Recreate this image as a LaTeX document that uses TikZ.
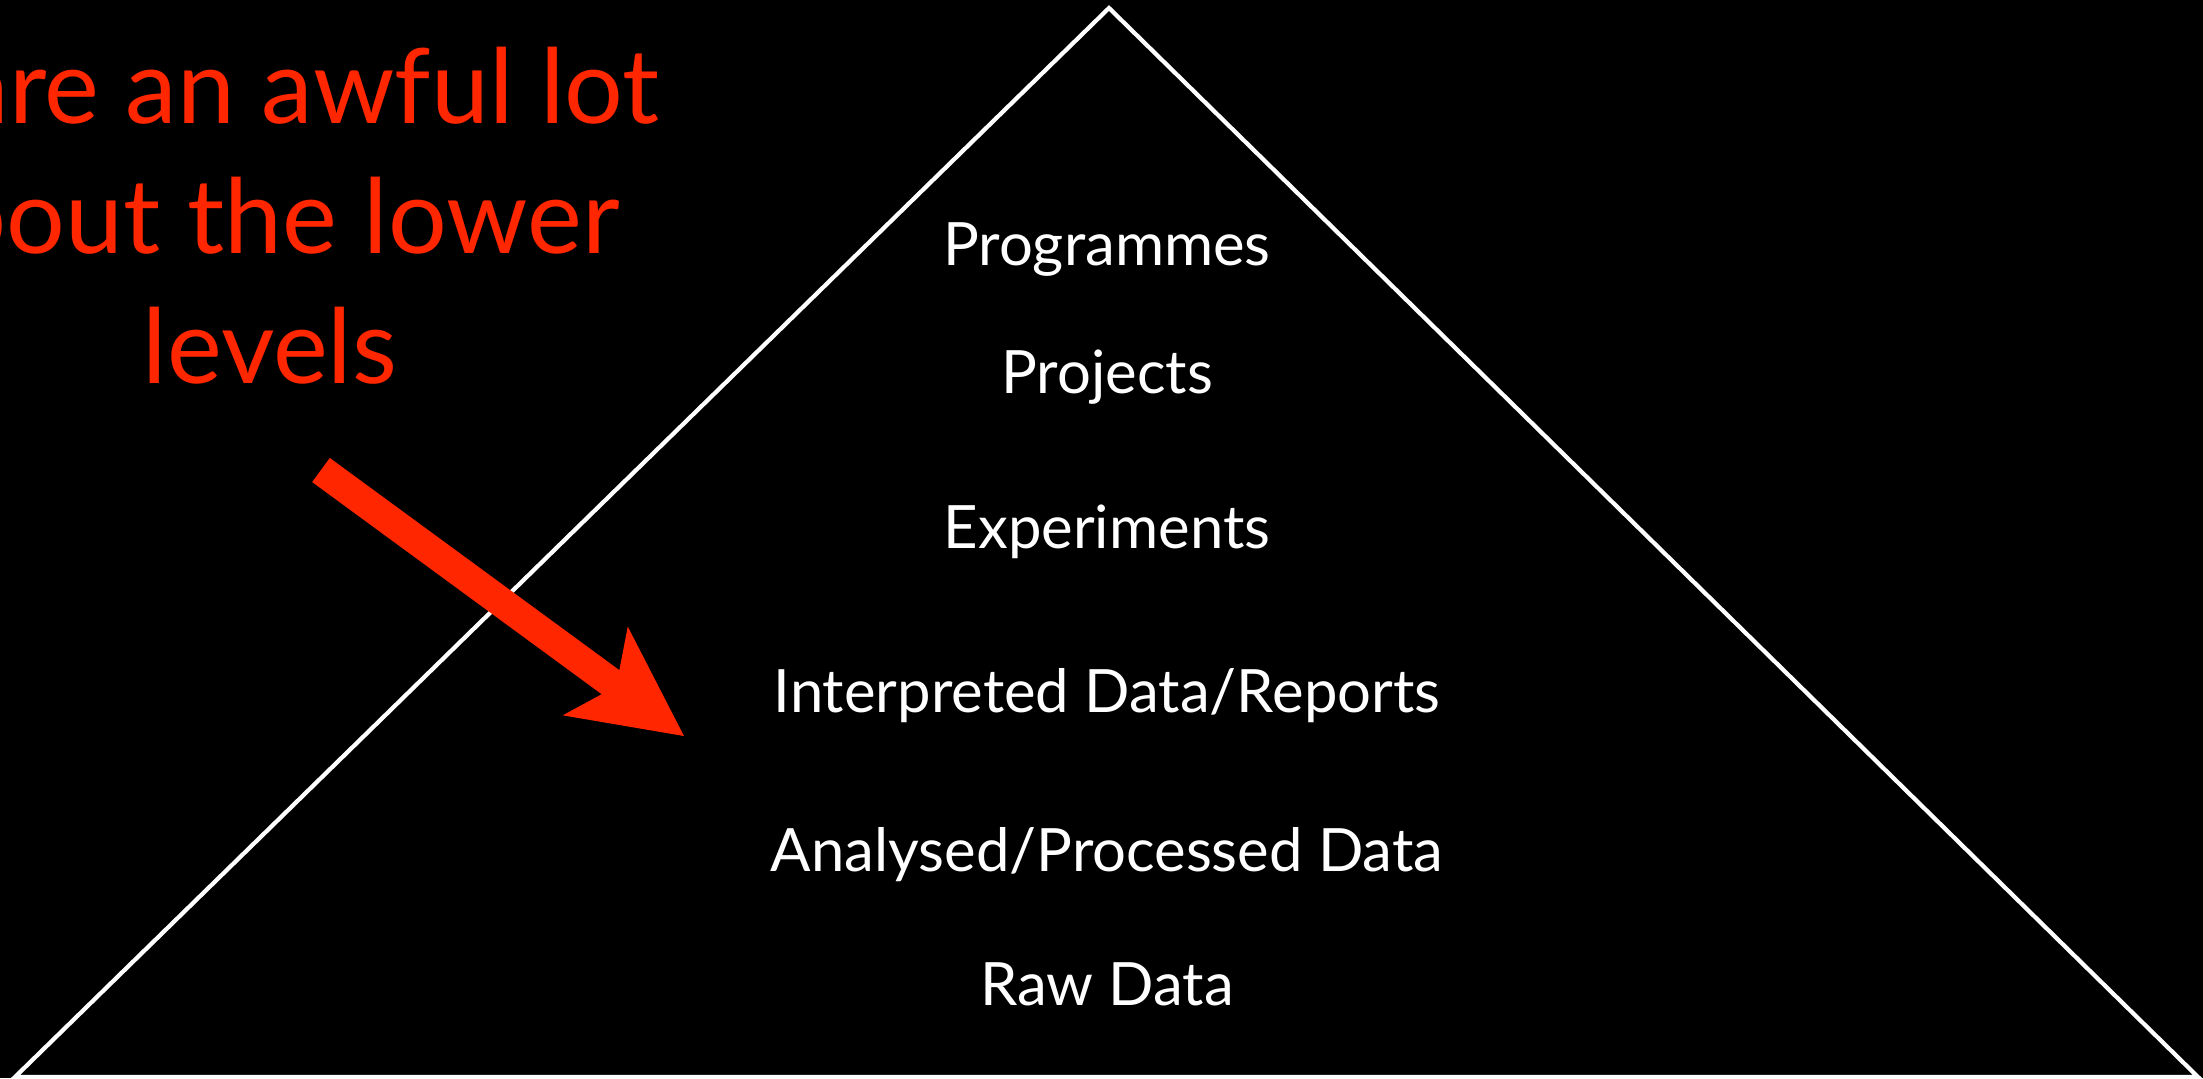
\documentclass[tikz,border=0pt]{standalone}
\usepackage{fontspec}
\setmainfont{Lato}
\usetikzlibrary{arrows.meta}
\definecolor{keyred}{RGB}{255,38,0}

\begin{document}
\begin{tikzpicture}[x=0.01cm,y=-0.01cm,
  level/.style={text=white,anchor=base,font=\fontsize{17}{20}\selectfont},
  remark/.style={text=keyred,anchor=base east,font=\fontsize{29.5}{35}\selectfont}]

% Background, fixes the page size
\fill[black] (0,0) rectangle (2203,1078);
\useasboundingbox (0,0) rectangle (2203,1078);
\clip (0,0) rectangle (2203,1078);

% Pyramid outline
\coordinate (top) at (1109,8);
\coordinate (left) at (15,1077);
\coordinate (right) at (2198,1077);
\draw[white, line width=1.2pt] (left) -- (top) -- (right) -- cycle;

% Levels, top to bottom
\node[level] (prog) at (1107,265) {Programmes};
\node[level] (proj) at (1107,393) {Projects};
\node[level] (expt) at (1107,548) {Experiments};
\node[level] (interp) at (1107,712) {Interpreted Data/Reports};
\node[level] (anal) at (1107,871) {Analysed/Processed Data};
\node[level] (raw) at (1107,1005) {Raw Data};

% Red remark, cut off at the left edge
\node[remark] (line1) at (672,123) {are an awful lot};
\node[remark] (line2) at (632,253) {bout the lower};
\node[remark, anchor=base] (line3) at (270,383) {levels};

% Arrow pointing at the lower levels
\coordinate (tail) at (321,470);
\coordinate (tip) at (684,736);
\draw[keyred, line width=8.5pt,
  -{Stealth[length=31.3pt,width=31.3pt,inset=7.4pt,line width=0pt]}] (tail) -- (tip);

\end{tikzpicture}
\end{document}
